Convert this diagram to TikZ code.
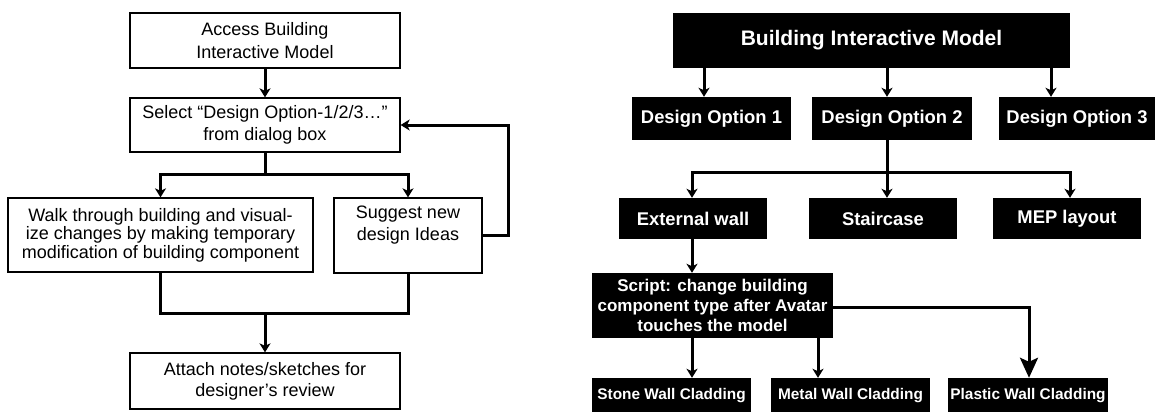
\documentclass[tikz,border=0pt]{standalone}
\usepackage{fontspec}
\setmainfont{Liberation Sans}
\usetikzlibrary{arrows.meta,calc}
\begin{document}
\begin{tikzpicture}[x=1pt,y=-1pt,
  lbox/.style={draw=black, line width=1.3pt, fill=white, align=center, inner sep=0pt},
  ltext/.style={align=center, inner sep=0pt},
  dbox/.style={fill=black, text=white, align=center, inner sep=0pt},
  conn/.style={line width=3pt, line join=miter},
  arr/.style={conn, -{Stealth[length=9pt,width=11pt,inset=2.5pt]}},
  bigarr/.style={conn, -{Stealth[length=20pt,width=18pt,inset=4pt]}},
  lf/.style={font=\fontsize{18}{22}\selectfont},
  rf/.style={font=\bfseries\fontsize{18.4}{22}\selectfont}
]
\useasboundingbox (0,0) rectangle (1156,412);

% ---------- left flow ----------
\node[lbox, minimum width=270pt, minimum height=55pt, font=\fontsize{18}{23}\selectfont] (acc) at (265,40.5) {Access Building\\Interactive Model};
\node[lbox, lf, minimum width=270pt, minimum height=54pt] (sel) at (265,125) {Select “Design Option-1/2/3…”\\from dialog box};
\node[lbox, minimum width=305pt, minimum height=74pt, font=\fontsize{18}{18.5}\selectfont] (walk) at (160.5,235) {Walk through building and visual-\\ize changes by making temporary\\modification of building component};
\node[lbox, minimum width=148pt, minimum height=75pt] (sugg) at (408,235.5) {};
\node[ltext, lf] (suggt) at (408,225) {Suggest new\\design Ideas};
\node[lbox, minimum width=270pt, minimum height=56pt, font=\fontsize{18}{21}\selectfont] (att) at (265,381) {Attach notes/sketches for\\designer’s review};

\draw[arr] (acc.south) -- (sel.north);
\coordinate (lb) at (265,174);
\draw[conn] (sel.south) -- (lb);
\draw[arr] (lb) -| (walk.north);
\draw[arr] (lb) -| (sugg.north);
\coordinate (lm) at (265,313);
\draw[conn] (walk.south) |- (lm) -| (sugg.south);
\draw[arr] (lm) -- (att.north);
\draw[arr] (sugg.east) -- ++(26,0) |- (sel.east);

% ---------- right tree ----------
\node[dbox, minimum width=397pt, minimum height=55pt, font=\bfseries\fontsize{21}{24}\selectfont] (bim) at (871.5,40.5) {Building Interactive Model};
\node[dbox, rf, minimum width=159pt, minimum height=43pt] (do1) at (711.5,118.5) {Design Option 1};
\node[dbox, rf, minimum width=160pt, minimum height=43pt] (do2) at (892,118.5) {Design Option 2};
\node[dbox, rf, minimum width=156pt, minimum height=43pt] (do3) at (1077,118.5) {Design Option 3};
\node[dbox, rf, minimum width=148pt, minimum height=41pt] (ext) at (693,218.5) {External wall};
\node[dbox, rf, minimum width=148pt, minimum height=41pt] (stair) at (883,218.5) {Staircase};
\node[dbox, rf, minimum width=148pt, minimum height=41pt] (mep) at (1067,218.5) {MEP layout};
\node[dbox, minimum width=241pt, minimum height=65pt, font=\bfseries\fontsize{17}{20}\selectfont] (script) at (712.5,305.5) {Script: change building\\component type after Avatar\\touches the model};
\node[dbox, minimum width=159pt, minimum height=36pt, font=\bfseries\fontsize{15.4}{18}\selectfont] (stone) at (671.5,396) {Stone Wall Cladding};
\node[dbox, minimum width=159pt, minimum height=36pt, font=\bfseries\fontsize{15.4}{18}\selectfont] (metal) at (850.5,396) {Metal Wall Cladding};
\node[dbox, minimum width=160pt, minimum height=36pt, font=\bfseries\fontsize{15.4}{18}\selectfont] (plastic) at (1028,396) {Plastic Wall Cladding};

\draw[arr] (bim.south -| 704,0) -- (do1.north -| 704,0);
\draw[arr] (bim.south -| 887,0) -- (do2.north -| 887,0);
\draw[arr] (bim.south -| 1051,0) -- (do3.north -| 1051,0);
\coordinate (rb) at (887,172);
\draw[conn] (do2.south -| rb) -- (rb);
\draw[arr] (rb) -| (ext.north -| 692,0);
\draw[arr] (rb) -- (stair.north -| rb);
\draw[arr] (rb) -| (mep.north -| 1070,0);
\draw[arr] (ext.south -| 692,0) -- (script.north -| 692,0);
\draw[arr] (script.south -| 692,0) -- (stone.north -| 692,0);
\draw[arr] (script.south -| 818,0) -- (metal.north -| 818,0);
\draw[bigarr] (script.east |- 0,307) -| (plastic.north -| 1029,0);
\end{tikzpicture}
\end{document}
